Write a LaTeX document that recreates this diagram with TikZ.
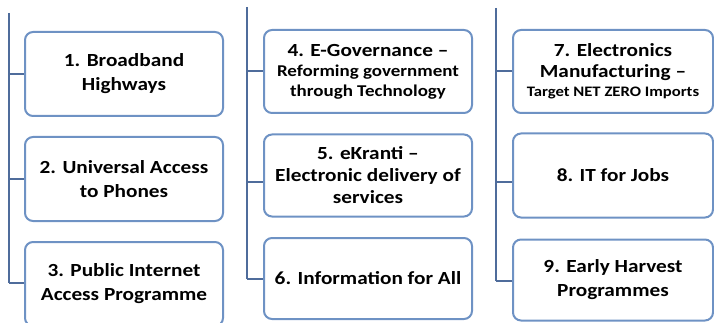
\documentclass[tikz,border=0pt]{standalone}
\usepackage{fontspec}
\setmainfont{Carlito}[FakeStretch=1.15]
\definecolor{linec}{RGB}{79,108,155}
\definecolor{boxc}{RGB}{110,146,196}
\tikzset{
  box/.style={draw=boxc, line width=2pt, rounded corners=8pt, align=center,
    font=\fontsize{18.5}{24}\selectfont\bfseries, inner sep=1pt, text=black},
  trunk/.style={draw=linec, line width=2.4pt},
  branch/.style={draw=linec, line width=2pt},
}
\begin{document}
\begin{tikzpicture}[x=1pt,y=-1pt]
\useasboundingbox (0,0) rectangle (714,323);
\clip (0,0) rectangle (714,323);
% column 1
\node[box, minimum width=198pt, minimum height=84pt] (b1) at (124,74) {1. Broadband\\Highways};
\node[box, minimum width=198pt, minimum height=84pt] (b2) at (124,179) {2. Universal Access\\to Phones};
\node[box, minimum width=198pt, minimum height=84pt] (b3) at (124,284) {3. Public Internet\\Access Programme};
% column 2
\node[box, minimum width=208pt, minimum height=83pt] (b4) at (368,71.5) {4. E-Governance --\\[-4pt]{\fontsize{16.5}{20}\selectfont Reforming government}\\[-4pt]{\fontsize{16.5}{20}\selectfont through Technology}};
\node[box, minimum width=208pt, minimum height=82pt] (b5) at (368,175.5) {5. eKranti --\\[-2pt]Electronic delivery of\\[-2pt]services};
\node[box, minimum width=208pt, minimum height=81pt] (b6) at (368,278.5) {6. Information for All};
% column 3
\node[box, minimum width=200pt, minimum height=83pt] (b7) at (613,71.5) {7. Electronics\\[-3pt]Manufacturing --\\[-5pt]{\fontsize{14.5}{18}\selectfont Target NET ZERO Imports}};
\node[box, minimum width=200pt, minimum height=84pt] (b8) at (613,175.5) {8. IT for Jobs};
\node[box, minimum width=200pt, minimum height=81pt] (b9) at (613,280) {9. Early Harvest\\Programmes};
% trunks
\coordinate (t1) at (9,13);
\coordinate (t2) at (247,7);
\coordinate (t3) at (496,8);
\coordinate (k1) at (0,283);
\coordinate (k2) at (0,279);
\coordinate (k3) at (0,281);
\coordinate (m2) at (0,182);
\coordinate (m3) at (0,182);
\draw[trunk] (t1) -- (t1 |- k1);
\draw[trunk] (t2) -- (t2 |- k2);
\draw[trunk] (t3) -- (t3 |- k3);
% branches
\draw[branch] (t1 |- b1.west) -- (b1.west);
\draw[branch] (t1 |- b2.west) -- (b2.west);
\draw[branch] (t1 |- k1) -- (b3.west |- k1);
\draw[branch] (t2 |- b4.west) -- (b4.west);
\draw[branch] (t2 |- m2) -- (b5.west |- m2);
\draw[branch] (t2 |- k2) -- (b6.west |- k2);
\draw[branch] (t3 |- b7.west) -- (b7.west);
\draw[branch] (t3 |- m3) -- (b8.west |- m3);
\draw[branch] (t3 |- k3) -- (b9.west |- k3);
\end{tikzpicture}
\end{document}
